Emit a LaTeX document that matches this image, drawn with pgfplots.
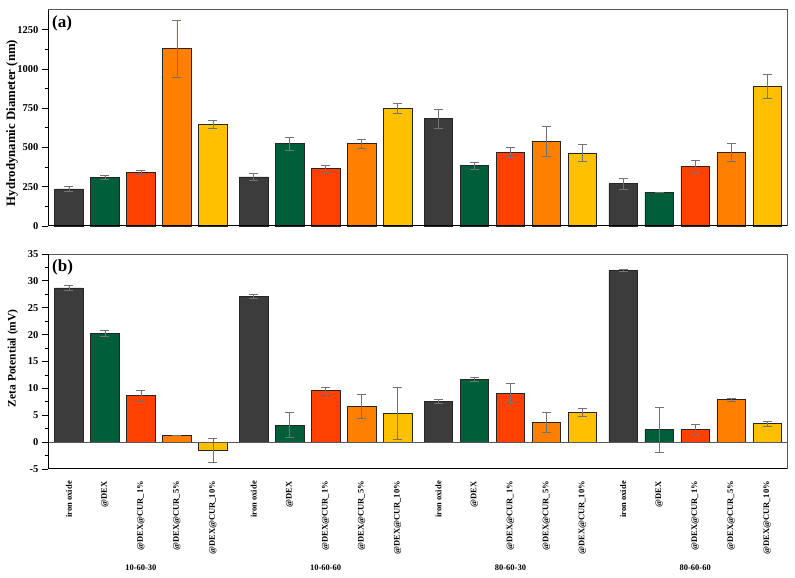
\documentclass[border=0pt]{standalone}
\usepackage{fontspec}
\setmainfont{Liberation Serif}
\usepackage{pgfplots}
\usepackage{pgfplotstable}
\pgfplotsset{compat=1.18}

\definecolor{cgray}{HTML}{3C3C3C}
\definecolor{cgreen}{HTML}{005E3A}
\definecolor{cred}{HTML}{FF4000}
\definecolor{corange}{HTML}{FF8000}
\definecolor{cyellow}{HTML}{FFC000}

% group base x positions; series offset +0..+4
\pgfplotstableread{
g    gray egray green egreen red ered orange eorange yellow eyellow
0    236  14    310   13     340 15   1129   184     647    24
5.13 312  21    524   43     365 22   524    31      751    30
10.26 683 58    384   25     469 34   537    95      465    54
15.39 270 35    216   2      378 42   469    58      889    74
}\dhtable

\pgfplotstableread{
g    gray  egray green egreen red  ered orange eorange yellow eyellow
0    28.68 0.45  20.26 0.5    8.62 1.1  1.32   0.05    -1.53  2.3
5.13 27.14 0.45  3.17  2.3    9.55 0.65 6.70   2.3     5.40   4.85
10.26 7.57 0.35  11.72 0.35   9.12 1.9  3.73   1.9     5.59   0.8
15.39 31.96 0.2  2.31  4.1    2.43 0.93 7.88   0.35    3.43   0.45
}\zptable

\tikzset{glab/.style={font=\bfseries\fontsize{8.5}{10}\selectfont, yshift=-99pt}}

\pgfplotsset{
  mybar/.style={fill=#1, draw=black!85, line width=0.6pt,
    error bars/.cd, y dir=both, y explicit,
    error bar style={draw=black!55, line width=0.45pt},
    error mark options={rotate=90, draw=black!55, mark size=4.5pt, line width=0.45pt}},
  common/.style={
    scale only axis, width=739pt, anchor=south west,
    xmin=-0.58, xmax=19.94,
    axis line style={draw=black!65, line width=1pt},
    tick align=outside,
    major tick length=6pt, minor tick length=3.5pt,
    ytick pos=left,
    ytick style={black, line width=0.8pt},
    minor y tick num=1,
    xtick style={draw=none},
    yticklabel style={font=\bfseries\fontsize{10.5}{12}\selectfont},
    /pgf/number format/assume math mode=true,
    /pgf/number format/set thousands separator={},
    ybar, bar shift=0pt, bar width=0.79,
    clip=false,
    after end axis/.code={\draw[black, line width=1pt] (rel axis cs:0,1) -- (rel axis cs:0,0) -- (rel axis cs:1,0);},
  },
}

\begin{document}
\begin{tikzpicture}
% top panel
\begin{axis}[common, at={(48pt,352pt)}, height=216pt,
  ymin=0, ymax=1375, ytick={0,250,...,1250},
  xtick=\empty,
  every axis y label/.style={at={(rel axis cs:-0.0487,0.477)}, rotate=90, anchor=center,
    font=\bfseries\fontsize{12.8}{14}\selectfont},
  ylabel={Hydrodynamic Diameter (nm)}]
\addplot[mybar=cgray]   table[x expr=\thisrow{g},   y=gray,   y error=egray]   {\dhtable};
\addplot[mybar=cgreen]  table[x expr=\thisrow{g}+1, y=green,  y error=egreen]  {\dhtable};
\addplot[mybar=cred]    table[x expr=\thisrow{g}+2, y=red,    y error=ered]    {\dhtable};
\addplot[mybar=corange] table[x expr=\thisrow{g}+3, y=orange, y error=eorange] {\dhtable};
\addplot[mybar=cyellow] table[x expr=\thisrow{g}+4, y=yellow, y error=eyellow] {\dhtable};
\node[anchor=north west, inner sep=0pt, xshift=4pt, yshift=-6pt,
  font=\bfseries\fontsize{17}{20}\selectfont] at (rel axis cs:0,1) {(a)};
\end{axis}

% bottom panel
\begin{axis}[common, at={(48pt,109pt)}, height=215pt,
  ymin=-5, ymax=35, ytick={-5,0,...,35},
  xtick={0,1,2,3,4,5.13,6.13,7.13,8.13,9.13,10.26,11.26,12.26,13.26,14.26,15.39,16.39,17.39,18.39,19.39},
  xticklabels={iron oxide,@DEX,@DEX@CUR\_1\%,@DEX@CUR\_5\%,@DEX@CUR\_10\%,
               iron oxide,@DEX,@DEX@CUR\_1\%,@DEX@CUR\_5\%,@DEX@CUR\_10\%,
               iron oxide,@DEX,@DEX@CUR\_1\%,@DEX@CUR\_5\%,@DEX@CUR\_10\%,
               iron oxide,@DEX,@DEX@CUR\_1\%,@DEX@CUR\_5\%,@DEX@CUR\_10\%},
  xticklabel style={rotate=90, anchor=east, inner sep=0pt,
    font=\bfseries\fontsize{8.5}{10}\selectfont},
  xticklabel shift=6pt,
  every axis y label/.style={at={(rel axis cs:-0.0474,0.515)}, rotate=90, anchor=center,
    font=\bfseries\fontsize{11.5}{14}\selectfont},
  ylabel={Zeta Potential (mV)}]
\addplot[mybar=cgray]   table[x expr=\thisrow{g},   y=gray,   y error=egray]   {\zptable};
\addplot[mybar=cgreen]  table[x expr=\thisrow{g}+1, y=green,  y error=egreen]  {\zptable};
\addplot[mybar=cred]    table[x expr=\thisrow{g}+2, y=red,    y error=ered]    {\zptable};
\addplot[mybar=corange] table[x expr=\thisrow{g}+3, y=orange, y error=eorange] {\zptable};
\addplot[mybar=cyellow] table[x expr=\thisrow{g}+4, y=yellow, y error=eyellow] {\zptable};
\draw[black!65, line width=1pt] (axis cs:-0.58,0) -- (axis cs:19.94,0);
\node[anchor=north west, inner sep=0pt, xshift=4pt, yshift=-6pt,
  font=\bfseries\fontsize{17}{20}\selectfont] at (rel axis cs:0,1) {(b)};
\node[glab] at (axis cs:2,-5) {10-60-30};
\node[glab] at (axis cs:7.13,-5) {10-60-60};
\node[glab] at (axis cs:12.26,-5) {80-60-30};
\node[glab] at (axis cs:17.39,-5) {80-60-60};
\end{axis}
\pgfresetboundingbox
\path[use as bounding box] (0,0) rectangle (795pt,578pt);
\end{tikzpicture}
\end{document}
